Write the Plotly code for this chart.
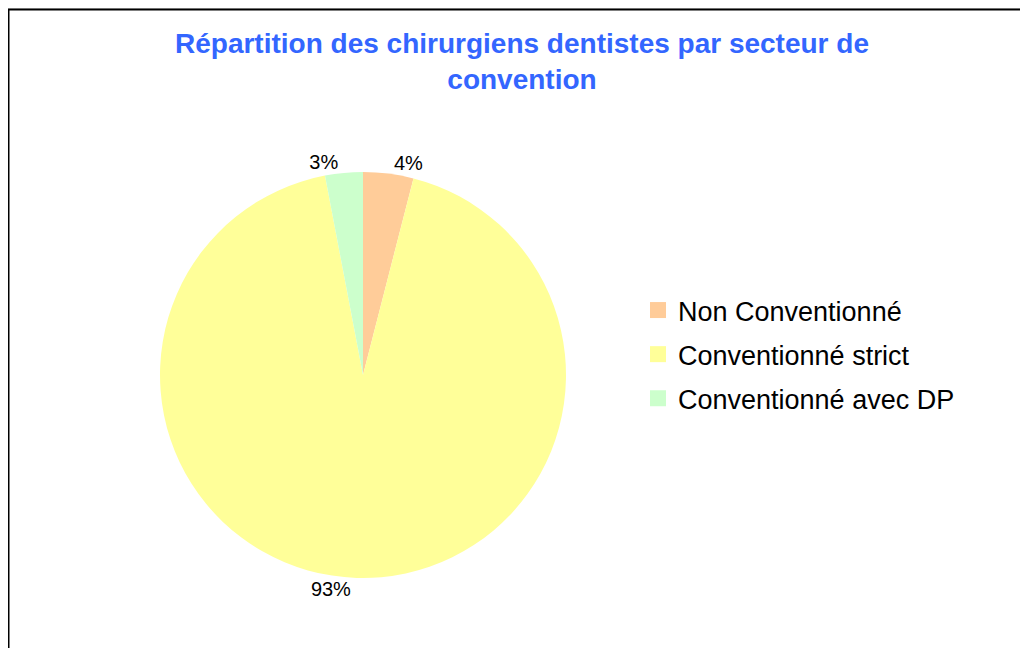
import plotly.graph_objects as go

categories = ["Non Conventionné", "Conventionné strict", "Conventionné avec DP"]
values = [4, 93, 3]
colors = ["#FFCC99", "#FFFF99", "#CCFFCC"]
title_text = "Répartition des chirurgiens dentistes par secteur de<br>convention"

W, H = 1028, 648
FONT = "Liberation Sans, Arial, sans-serif"

fig = go.Figure()
fig.add_trace(go.Pie(
    labels=categories,
    values=values,
    sort=False,
    direction="clockwise",
    rotation=0,
    marker=dict(colors=colors, line=dict(width=0)),
    textposition="outside",
    texttemplate="%{percent:.0%}",
    textfont=dict(family=FONT, size=20, color="#000000"),
    hoverinfo="label+percent",
    showlegend=False,
    domain=dict(x=[150 / W, 560 / W], y=[1 - 570 / H, 1 - 164 / H]),
))

# legend entries (same categories / colours as the slices)
for cat, col in zip(categories, colors):
    fig.add_trace(go.Scatter(
        x=[None], y=[None], mode="markers",
        marker=dict(symbol="square", size=16, color=col, line=dict(width=0)),
        name=cat, legendgroup=cat, showlegend=True, hoverinfo="skip",
    ))

fig.update_layout(
    width=W, height=H,
    margin=dict(l=0, r=0, t=0, b=0),
    paper_bgcolor="white",
    plot_bgcolor="white",
    font=dict(family=FONT, color="#000000"),
    xaxis=dict(visible=False),
    yaxis=dict(visible=False),
    title=dict(
        text="<b>" + title_text.replace("<br>", "</b><br><b>") + "</b>",
        x=0.5, xanchor="center",
        y=1 - 45 / H, yanchor="top",
        font=dict(family=FONT, size=28, color="#3366FF"),
    ),
    legend=dict(
        x=630 / W, xanchor="left",
        y=1 - 278 / H, yanchor="top",
        font=dict(family=FONT, size=27, color="#000000"),
        bgcolor="rgba(0,0,0,0)",
        tracegroupgap=6,
        itemsizing="trace",
    ),
    shapes=[
        dict(type="line", xref="paper", yref="paper", x0=0, x1=1, y0=1, y1=1,
             line=dict(color="#C8C8C8", width=1)),
        dict(type="line", xref="paper", yref="paper", x0=0, x1=1, y0=1 - 1.5 / H, y1=1 - 1.5 / H,
             line=dict(color="#000000", width=2)),
        dict(type="line", xref="paper", yref="paper", x0=0.5 / W, x1=0.5 / W, y0=0, y1=1 - 1.5 / H,
             line=dict(color="#000000", width=2)),
    ],
)

fig.write_html("out.html")
